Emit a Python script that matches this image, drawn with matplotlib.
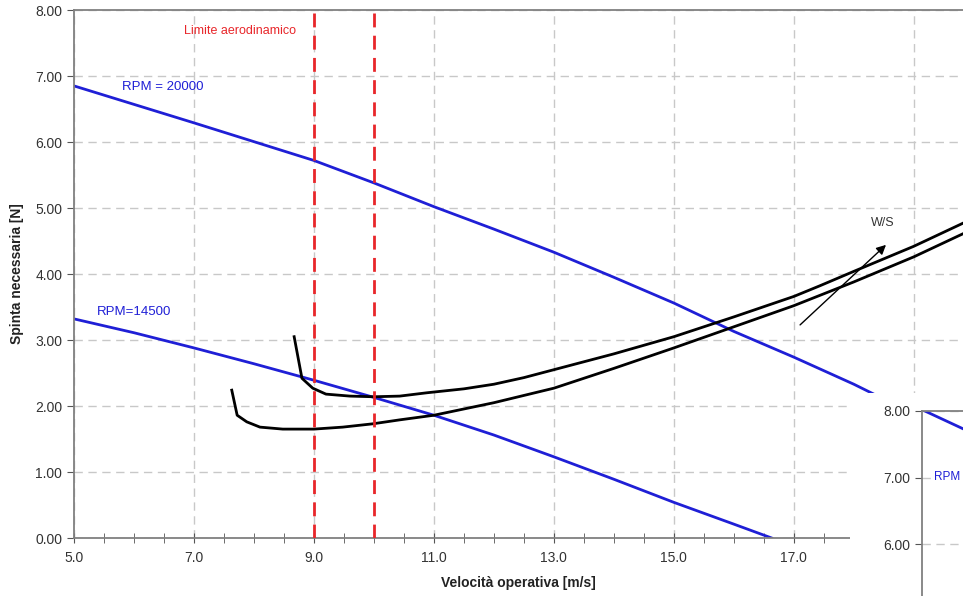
import matplotlib.pyplot as plt
from matplotlib.ticker import MultipleLocator, FormatStrFormatter
from matplotlib.patches import Rectangle

plt.rcParams['font.family'] = ['Liberation Sans', 'DejaVu Sans']

# thrust lines for two rotor speeds
v_20000 = [5, 7, 9, 10, 11, 12, 13, 14, 15, 16, 17, 18, 18.4]
t_20000 = [6.85, 6.29, 5.72, 5.38, 5.02, 4.68, 4.33, 3.95, 3.56, 3.13, 2.74, 2.33, 2.15]
v_14500 = [5, 6, 7, 8, 9, 10, 11, 12, 13, 14, 15, 16, 16.63]
t_14500 = [3.32, 3.11, 2.88, 2.64, 2.39, 2.13, 1.86, 1.56, 1.23, 0.89, 0.54, 0.21, 0.0]

# required thrust curves (two W/S values)
v_ws_high = [8.67, 8.8, 8.98, 9.2, 9.6, 10.0, 10.43, 10.88, 11.5, 12, 12.5, 13, 14, 15, 16, 17, 17.43, 18, 19, 19.82]
t_ws_high = [3.05, 2.42, 2.27, 2.18, 2.15, 2.14, 2.15, 2.2, 2.26, 2.33, 2.43, 2.55, 2.79, 3.05, 3.35, 3.66, 3.82, 4.04, 4.42, 4.77]
v_ws_low = [7.63, 7.72, 7.88, 8.1, 8.48, 9.0, 9.48, 9.98, 10.43, 11, 12, 13, 14, 15, 16, 17, 18, 19, 19.82]
t_ws_low = [2.24, 1.86, 1.76, 1.68, 1.65, 1.65, 1.68, 1.73, 1.79, 1.86, 2.05, 2.27, 2.57, 2.88, 3.2, 3.52, 3.88, 4.26, 4.61]

aero_limits = [9.0, 10.0]
x_ticks = [5, 7, 9, 11, 13, 15, 17, 19]

# second chart peeking in at the bottom right
v_inset = [5, 6]
t_inset = [8.02, 7.60]

blue = '#1f1fd6'
red = '#e8262a'
grid_c = '#c8c8c8'
tick_c = '#333333'

fig = plt.figure(figsize=(9.63, 5.96), dpi=100)
ax = fig.add_axes([74 / 963, 58 / 596, 1 - 74 / 963, 528 / 596])

ax.plot(v_20000, t_20000, color=blue, lw=2)
ax.plot(v_14500, t_14500, color=blue, lw=2)
ax.plot(v_ws_high, t_ws_high, color='black', lw=2)
ax.plot(v_ws_low, t_ws_low, color='black', lw=2)
for xv in aero_limits:
    ax.axvline(xv, color=red, lw=2, ls=(0, (5, 3)), zorder=3)

ax.text(7.77, 7.68, 'Limite aerodinamico', color=red, fontsize=9, ha='center', va='center')
ax.text(5.8, 6.83, 'RPM = 20000', color=blue, fontsize=9.5, ha='left', va='center')
ax.text(5.38, 3.42, 'RPM=14500', color=blue, fontsize=9.5, ha='left', va='center')
ax.text(18.48, 4.77, 'W/S', color=tick_c, fontsize=9, ha='center', va='center')
ax.annotate('', xy=(18.57, 4.47), xytext=(17.07, 3.2),
            arrowprops=dict(arrowstyle='-|>', color='black', lw=1, mutation_scale=14))

ax.set_xlim(5, 19.82)
ax.set_ylim(0, 8)
ax.set_xticks(x_ticks)
ax.xaxis.set_minor_locator(MultipleLocator(0.5))
ax.yaxis.set_major_locator(MultipleLocator(1))
ax.xaxis.set_major_formatter(FormatStrFormatter('%.1f'))
ax.yaxis.set_major_formatter(FormatStrFormatter('%.2f'))
ax.grid(True, which='major', color=grid_c, ls=(0, (6, 4)), lw=1)
ax.set_axisbelow(True)
ax.tick_params(axis='x', which='both', direction='inout', length=7, color='#555555',
               labelsize=10, labelcolor=tick_c, pad=6)
ax.tick_params(axis='y', direction='out', length=5, color='#555555',
               labelsize=10, labelcolor=tick_c)
for s in ['left', 'bottom', 'top']:
    ax.spines[s].set_color('#808080')
    ax.spines[s].set_linewidth(1.3)
ax.spines['right'].set_visible(False)

ax.set_xlabel('Velocità operativa [m/s]', fontsize=10, fontweight='bold', color='#222222', labelpad=8)
ax.set_ylabel('Spinta necessaria [N]', fontsize=10, fontweight='bold', color='#222222', labelpad=8)

# white box of the overlapping chart
fig.patches.append(Rectangle((850 / 963, 0), 1, (596 - 393) / 596, transform=fig.transFigure,
                             facecolor='white', edgecolor='none', zorder=5))
ins = fig.add_axes([922 / 963, 0, 1 - 922 / 963, (596 - 411) / 596], zorder=6)
ins.plot(v_inset, t_inset, color=blue, lw=2)
ins.set_xlim(5, 5 + 41 / 60)
ins.set_ylim(8 - 185 / 66.5, 8)
ins.yaxis.set_major_locator(MultipleLocator(1))
ins.yaxis.set_major_formatter(FormatStrFormatter('%.2f'))
ins.set_xticks([])
ins.grid(True, axis='y', color=grid_c, ls=(0, (6, 4)), lw=1)
ins.tick_params(axis='y', direction='out', length=5, color='#555555',
                labelsize=10, labelcolor=tick_c)
for s in ['left', 'top']:
    ins.spines[s].set_color('#808080')
    ins.spines[s].set_linewidth(1.3)
ins.spines['right'].set_visible(False)
ins.spines['bottom'].set_visible(False)
ins.text(5.2, 7.0, 'RPM', color=blue, fontsize=8.5, ha='left', va='center',
         bbox=dict(facecolor='white', edgecolor='none', pad=1))

fig.savefig('out.png', dpi=100)
